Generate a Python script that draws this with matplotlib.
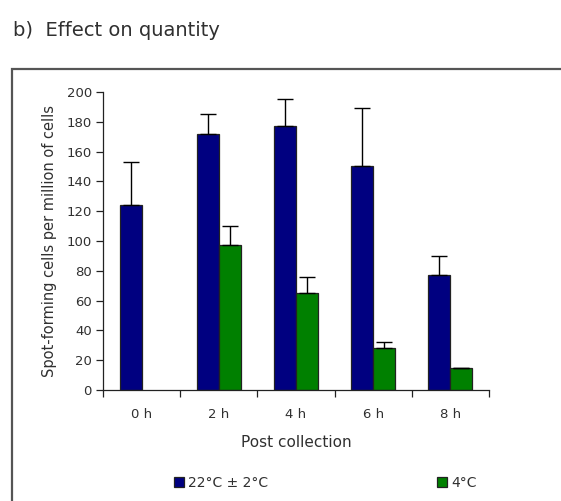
import matplotlib
matplotlib.use("Agg")
import matplotlib.pyplot as plt
import numpy as np
from matplotlib.patches import Rectangle

plt.rcParams['font.family'] = ['DejaVu Sans']

# data
timepoints = ["0 h", "2 h", "4 h", "6 h", "8 h"]
warm_mean = [124, 172, 177, 150, 77]
warm_err = [29, 13, 18, 39, 13]
cold_mean = [0, 97, 65, 28, 15]
cold_err = [0, 13, 11, 4, 0]
series_labels = ["22°C ± 2°C", "4°C"]

navy = "#000080"
green = "#008000"
txt = "#303030"

fig = plt.figure(figsize=(5.61, 5.01), dpi=100)
ax = fig.add_axes([0.1836, 0.2216, 0.6881, 0.5948])

x = np.arange(len(timepoints))
w = 0.285
ekw = dict(ecolor="black", elinewidth=1.0, capsize=5.5, capthick=1.0)
b1 = ax.bar(x - w / 2, warm_mean, w, color=navy, edgecolor="#222222", linewidth=0.9,
            yerr=[np.zeros(len(x)), warm_err], error_kw=ekw, label=series_labels[0])
cold_plot = [m if m > 0 else np.nan for m in cold_mean]
b2 = ax.bar(x + w / 2, cold_plot, w, color=green, edgecolor="#222222", linewidth=0.9,
            yerr=[np.zeros(len(x)), cold_err], error_kw=ekw, label=series_labels[1])

ax.set_xlim(-0.5, len(x) - 0.5)
ax.set_ylim(0, 200)
ax.set_yticks(range(0, 201, 20))
ax.set_xticks(np.arange(len(x) + 1) - 0.5)
ax.set_xticklabels([])
ax.set_xticks(x, minor=True)
ax.set_xticklabels(timepoints, minor=True)
ax.tick_params(axis="x", which="minor", length=0, pad=13)
ax.tick_params(axis="x", which="major", length=5, width=0.9, color="#222222")
ax.tick_params(axis="y", length=5, width=0.9, color="#222222", pad=3)
for lab in ax.get_xticklabels(minor=True) + ax.get_yticklabels():
    lab.set_fontsize(9.5)
    lab.set_color(txt)
for s in ["top", "right"]:
    ax.spines[s].set_visible(False)
for s in ["left", "bottom"]:
    ax.spines[s].set_color("#222222")
    ax.spines[s].set_linewidth(0.9)

ax.set_ylabel("Spot-forming cells per million of cells", fontsize=10.5, color=txt, labelpad=7)
ax.set_xlabel("Post collection", fontsize=11, color=txt, labelpad=10)

fig.text(13 / 561, 1 - 30 / 501, "b)  Effect on quantity", fontsize=14, color=txt,
         va="center", ha="left")

fig.patches.append(Rectangle((12 / 561, -0.1), 1.2, 1.1 - 69 / 501, transform=fig.transFigure,
                             fill=False, edgecolor="#555555", linewidth=1.6, clip_on=False))

fig.legend(handles=[b1, b2], labels=series_labels, loc="center", ncol=2,
           bbox_to_anchor=(0.580, 1 - 483 / 501), frameon=False, fontsize=10,
           handlelength=0.7, handleheight=0.7, handletextpad=0.3, columnspacing=12.2,
           labelcolor=txt)

fig.savefig("out.png", dpi=100)
